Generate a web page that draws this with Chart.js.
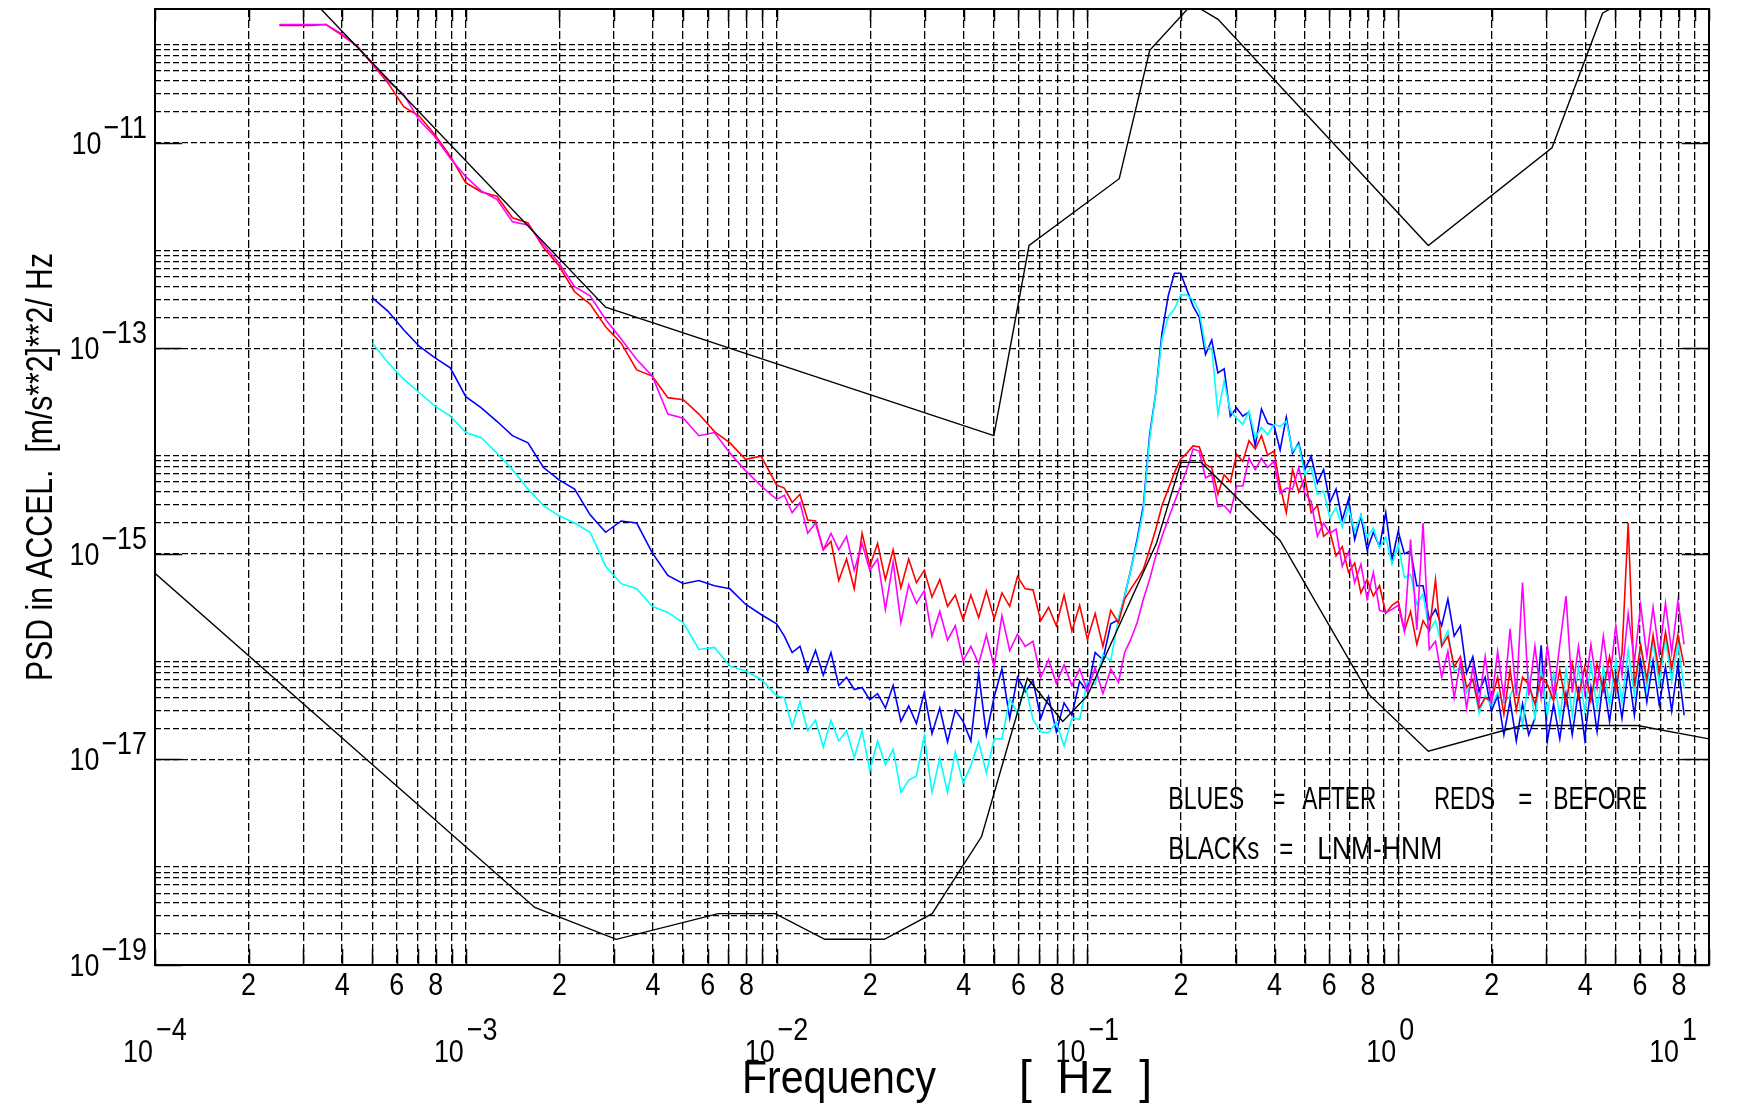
<!DOCTYPE html>
<html>
<head>
<meta charset="utf-8">
<script src="https://cdn.jsdelivr.net/npm/chart.js@4.4.1/dist/chart.umd.min.js"></script>
<style>
html,body{margin:0;padding:0;background:#fff;}
canvas{display:block;}
</style>
</head>
<body>
<canvas id="c" width="1737" height="1107"></canvas>
<script>
// ---------------- DATA ----------------
// Frequency grid (Hz) shared by the four measured spectra
const freqHz = [
 2.512e-4,2.818e-4,3.162e-4,3.548e-4,3.981e-4,4.467e-4,5.012e-4,5.623e-4,6.310e-4,7.079e-4,7.943e-4,8.913e-4,
 1.000e-3,1.122e-3,1.259e-3,1.413e-3,1.585e-3,1.778e-3,1.995e-3,2.239e-3,2.512e-3,2.818e-3,3.162e-3,3.548e-3,3.981e-3,4.467e-3,5.012e-3,5.623e-3,6.310e-3,7.079e-3,7.943e-3,8.913e-3,
 1.000e-2,
 1.059e-2,1.122e-2,1.189e-2,1.259e-2,1.334e-2,1.413e-2,1.496e-2,1.585e-2,1.679e-2,1.778e-2,1.884e-2,1.995e-2,2.113e-2,2.239e-2,2.371e-2,2.512e-2,2.661e-2,2.818e-2,2.985e-2,3.162e-2,3.350e-2,3.548e-2,3.758e-2,3.981e-2,4.217e-2,4.467e-2,4.732e-2,5.012e-2,5.309e-2,5.623e-2,5.957e-2,6.310e-2,6.683e-2,7.079e-2,7.499e-2,7.943e-2,8.414e-2,8.913e-2,9.441e-2,0.1000,0.1059,0.1122,0.1189,0.1259,
 0.1318,0.1380,0.1445,0.1514,0.1585,0.1660,0.1738,0.1820,0.1905,0.1995,0.2089,0.2188,0.2291,0.2399,0.2512,0.2630,0.2754,0.2884,0.3020,0.3162,0.3311,0.3467,0.3631,0.3802,0.3981,0.4169,0.4365,0.4571,0.4786,0.5012,0.5248,0.5495,0.5754,0.6026,0.6310,0.6607,0.6918,0.7244,0.7586,0.7943,0.8318,0.8710,0.9120,0.9550,
 1.000,1.047,1.096,1.148,1.202,1.259,1.318,1.380,1.445,1.514,1.585,1.660,1.738,1.820,1.905,1.995,2.089,2.188,2.291,2.399,2.512,2.630,2.754,2.884,3.020,3.162,3.311,3.467,3.631,3.802,3.981,4.169,4.365,4.571,4.786,5.012,5.248,5.495,5.754,6.026,6.310,6.607,6.918,7.244,7.586,7.943,8.318
];

// PSD in dB re 1 (m/s^2)^2/Hz.  BEFORE = reds, AFTER = blues
const redDb = [
 -98.6,-98.6,-98.6,-98.5,-99.5,-100.6,-102.4,-104.2,-106.5,-107.4,-109.2,-111.3,-113.9,-114.8,-115.2,-117.3,-117.8,-120.2,-122.0,-124.5,-125.7,-127.9,-129.5,-132.1,-132.7,-134.8,-135.0,-136.4,-138.1,-139.2,-140.8,-140.5,-143.3,
 -143.6,-145.0,-144.2,-146.7,-146.8,-149.6,-148.8,-152.6,-150.5,-153.4,-148.0,-151.2,-149.0,-152.5,-149.6,-153.3,-150.5,-152.8,-151.6,-154.2,-152.5,-155.1,-154.0,-156.4,-154.0,-156.2,-153.6,-156.3,-153.8,-155.1,-152.2,-153.4,-153.5,-156.5,-155.2,-157.0,-154.0,-157.5,-155.0,-158.3,-155.8,-159.0,-155.5,-156.7,
 -154.4,-153.4,-152.5,-151.5,-149.6,-147.6,-145.3,-143.7,-142.1,-140.8,-140.2,-139.5,
 -139.6,-141.3,-141.6,-144.2,-142.3,-143.0,-140.3,-141.0,-139.0,-139.8,-138.5,-140.4,-140.0,-143.4,-146.0,-141.8,-144.0,-142.6,-146.0,-145.3,-148.3,-147.8,-150.2,-149.3,-151.8,-150.9,-153.8,-152.5,-154.1,-153.1,-155.8,-155.0,
 -154.6,-157.5,-155.6,-158.8,-156.5,-157.5,-152.5,-159.0,-158.0,-161.0,-160.0,-163.0,-162.2,-165.0,-164.0,-164.3,-162.0,-165.6,-161.3,-165.2,-162.0,-162.7,-164.6,-162.0,-162.7,-164.3,-161.3,-164.6,-160.7,-164.0,-161.0,-164.3,-160.7,-163.3,-160.0,-163.3,-159.7,-147.0,-162.9,-158.9,-162.2,-157.9,-161.6,-157.6,-161.2,-157.9,-160.9
];
const magentaDb = [
 -98.5,-98.5,-98.5,-98.5,-99.4,-100.6,-102.3,-104.0,-105.3,-107.8,-109.4,-111.5,-113.3,-114.7,-115.5,-117.7,-118.0,-119.9,-121.7,-124.0,-124.9,-127.2,-129.1,-131.1,-132.7,-136.4,-136.8,-138.5,-138.2,-140.2,-141.9,-143.4,-144.7,
 -144.3,-146.0,-145.0,-148.0,-147.0,-149.6,-148.0,-149.6,-148.3,-151.6,-149.0,-151.6,-150.5,-155.4,-150.8,-156.7,-153.0,-154.8,-153.6,-158.0,-155.6,-158.4,-157.0,-160.4,-159.0,-160.7,-157.9,-161.0,-156.0,-159.4,-157.8,-159.0,-158.5,-162.0,-160.3,-162.6,-160.8,-162.8,-161.2,-163.3,-161.1,-163.6,-161.2,-162.5,
 -159.6,-158.3,-156.7,-154.4,-152.5,-150.2,-148.3,-146.6,-145.0,-143.4,-141.8,-139.8,
 -140.0,-142.6,-142.3,-145.4,-145.3,-146.0,-143.4,-143.4,-140.7,-141.8,-140.7,-141.6,-141.0,-144.1,-143.6,-143.7,-141.6,-144.1,-144.9,-148.3,-147.0,-148.0,-147.6,-151.2,-149.8,-152.8,-151.0,-154.4,-151.8,-155.5,-155.7,-155.4,
 -155.0,-157.5,-148.6,-157.4,-147.0,-159.3,-158.5,-162.0,-159.5,-164.0,-160.5,-165.0,-161.0,-164.5,-160.0,-164.5,-159.5,-164.0,-157.3,-163.8,-152.8,-163.8,-159.0,-164.0,-159.0,-163.8,-158.8,-154.1,-163.5,-159.0,-163.5,-158.8,-163.0,-158.0,-162.5,-157.0,-161.8,-155.8,-160.5,-155.0,-160.0,-155.2,-159.8,-154.8,-159.6,-154.6,-158.8
];
const blueDb = [
 null,null,null,null,null,null,-125.1,-126.4,-128.2,-129.8,-130.9,-131.9,-134.7,-135.8,-137.1,-138.5,-139.2,-141.6,-142.8,-143.7,-146.2,-147.9,-146.8,-147.0,-149.9,-152.1,-152.9,-152.6,-153.1,-153.4,-154.9,-155.9,-156.8,
 -158.0,-159.6,-159.0,-161.4,-159.4,-161.8,-159.6,-162.8,-162.0,-163.2,-163.0,-164.2,-163.6,-165.0,-162.8,-166.3,-164.8,-166.5,-163.5,-167.5,-165.0,-168.3,-165.2,-166.3,-168.2,-161.6,-167.6,-163.9,-161.2,-166.0,-162.0,-163.4,-162.3,-166.0,-163.9,-167.3,-164.5,-165.7,-162.4,-163.4,-159.6,-160.3,-156.8,-156.4,
 -154.1,-151.5,-148.6,-145.3,-138.5,-134.3,-128.5,-124.9,-122.7,-122.7,-124.3,-125.9,
 -127.0,-130.6,-129.2,-132.4,-132.0,-136.6,-135.8,-136.6,-136.2,-139.5,-135.9,-137.3,-137.5,-139.9,-136.7,-140.2,-139.2,-141.8,-140.5,-143.1,-141.8,-145.0,-143.7,-146.7,-144.7,-148.6,-146.3,-149.6,-147.9,-149.3,-146.0,-150.6,
 -147.8,-150.0,-149.7,-153.1,-153.1,-156.4,-155.4,-157.0,-154.4,-158.0,-157.0,-161.6,-160.0,-163.4,-162.0,-165.3,-163.8,-167.6,-164.3,-168.2,-164.6,-167.6,-166.0,-158.9,-168.2,-164.6,-168.0,-163.6,-167.6,-163.3,-168.0,-163.0,-167.3,-162.3,-166.3,-162.0,-166.0,-161.3,-165.7,-160.4,-164.4,-160.4,-164.7,-161.0,-165.3,-160.7,-165.7
];
const cyanDb = [
 null,null,null,null,null,null,-129.5,-131.4,-133.0,-134.3,-135.6,-136.6,-138.2,-138.7,-140.2,-141.8,-143.7,-145.3,-146.3,-147.0,-147.9,-151.2,-152.9,-153.4,-155.1,-155.7,-156.7,-159.3,-159.1,-160.9,-161.4,-162.2,-163.8,
 -164.0,-166.8,-164.4,-167.2,-166.2,-168.8,-166.2,-168.2,-167.2,-169.8,-167.2,-171.1,-168.2,-170.5,-169.0,-173.2,-172.0,-171.6,-167.7,-173.2,-169.9,-173.2,-169.3,-172.3,-170.6,-168.3,-171.3,-168.0,-168.0,-164.1,-165.5,-162.8,-166.1,-167.3,-167.4,-166.4,-168.7,-166.0,-166.1,-162.4,-162.7,-159.8,-160.4,-156.2,
 -154.1,-151.5,-148.9,-145.7,-138.9,-134.3,-129.1,-126.9,-126.2,-124.8,-124.8,-125.3,
 -126.4,-129.9,-130.0,-136.4,-133.2,-136.1,-136.8,-137.4,-136.1,-138.7,-137.7,-138.4,-137.4,-137.6,-137.1,-140.0,-139.4,-142.3,-141.6,-144.2,-143.9,-146.5,-145.5,-147.4,-145.5,-147.8,-146.2,-148.4,-147.5,-149.4,-148.4,-151.0,
 -149.1,-152.3,-152.0,-154.9,-153.9,-157.5,-156.5,-158.8,-157.5,-161.4,-161.1,-163.5,-162.2,-165.5,-163.8,-164.8,-163.5,-164.5,-163.8,-162.5,-166.7,-162.0,-166.0,-161.3,-165.7,-161.6,-166.0,-161.3,-165.7,-161.0,-165.3,-160.7,-165.0,-161.0,-164.7,-160.3,-164.4,-159.4,-163.7,-158.7,-163.1,-158.4,-162.7,-158.1,-162.4,-158.7,-163.1
];

// Black reference curves (low / high noise model), breakpoints
const lnmFreqHz = [1e-4,1.667e-3,3.049e-3,6.494e-3,9.901e-3,1.429e-2,2.222e-2,3.165e-2,4.566e-2,6.410e-2,8.333e-2,0.1,0.1667,0.2,0.2326,0.4167,0.8065,1.25,2.5,5.882,10];
const lnmDb     = [-151.9,-184.4,-187.5,-185.0,-185.0,-187.5,-187.5,-185.0,-177.5,-162.1,-166.3,-163.8,-149.0,-141.1,-141.1,-148.7,-163.7,-169.2,-166.7,-166.7,-168.0];
const hnmFreqHz = [3.0e-4,2.818e-3,0.05,0.0649,0.1266,0.1587,0.2174,0.2632,1.25,3.125,4.545,10];
const hnmDb     = [-95.2,-126.0,-138.5,-120.0,-113.5,-101.0,-96.5,-98.0,-120.0,-110.5,-97.4,-91.5];

// Axes / tick labels
const xDecades = [1e-4, 1e-3, 1e-2, 1e-1, 1e0, 1e1];
const xDecadeExponents = ['\u22124', '\u22123', '\u22122', '\u22121', '0', '1'];
const xMinorLabelDigits = [2, 4, 6, 8];
const yDecades = [1e-19, 1e-17, 1e-15, 1e-13, 1e-11];
const yDecadeExponents = ['\u221219', '\u221217', '\u221215', '\u221213', '\u221211'];
const gridMultipliers = [1, 2, 3, 4, 5, 6, 7, 8, 9];
const xTitleWord = 'Frequency';
const xTitleUnit = '[  Hz  ]';
const yTitle = 'PSD in ACCEL.  [m/s**2]**2/ Hz';
const noteLine1 = ['BLUES', '=', 'AFTER', 'REDS', '=', 'BEFORE'];
const noteLine2 = ['BLACKs', '=', 'LNM-HNM'];
const noteAnchorHz = 0.182;
const noteLine1Psd = 3.3e-18;
const noteLine2Psd = 1.08e-18;

// ---------------- BUILD ----------------
const dbToPsd = db => Math.pow(10, db / 10);
function series(fArr, dbArr) {
  const out = [];
  const n = Math.min(fArr.length, dbArr.length);
  for (let i = 0; i < n; i++) if (dbArr[i] !== null) out.push({x: fArr[i], y: dbToPsd(dbArr[i])});
  return out;
}
const xGridValues = [];
xDecades.forEach((d, i) => {
  if (i < xDecades.length - 1) gridMultipliers.forEach(m => xGridValues.push(m * d));
  else xGridValues.push(d);
});
const yGridValues = [];
yDecades.forEach(d => gridMultipliers.forEach(m => yGridValues.push(m * d)));

const FONT = "'Liberation Sans', Arial, sans-serif";
function drawText(ctx, text, x, y, size, opt) {
  opt = opt || {};
  ctx.save();
  ctx.font = size + 'px ' + FONT;
  ctx.textAlign = 'left';
  ctx.textBaseline = 'alphabetic';
  const w0 = ctx.measureText(text).width;
  const sx = opt.width ? opt.width / w0 : (opt.hscale || 1);
  const w = w0 * sx;
  let left = x;
  if (opt.align === 'right') left = x - w;
  else if (opt.align === 'center') left = x - w / 2;
  ctx.translate(left, y);
  ctx.scale(sx, 1);
  ctx.fillText(text, 0, 0);
  ctx.restore();
  return w;
}

const decorPlugin = {
  id: 'decor',
  afterDraw(chart) {
    const ctx = chart.ctx, a = chart.chartArea, xs = chart.scales.x, ys = chart.scales.y;
    ctx.save();
    ctx.strokeStyle = '#000';
    ctx.fillStyle = '#000';
    ctx.setLineDash([]);
    // solid tick segments inside the frame
    ctx.lineWidth = 1.5;
    ctx.beginPath();
    xGridValues.forEach(v => {
      const px = Math.round(xs.getPixelForValue(v)) + 0.5;
      ctx.moveTo(px, a.bottom); ctx.lineTo(px, a.bottom - 16);
      ctx.moveTo(px, a.top); ctx.lineTo(px, a.top + 12);
    });
    yDecades.forEach(v => {
      const py = Math.round(ys.getPixelForValue(v)) + 0.5;
      ctx.moveTo(a.left, py); ctx.lineTo(a.left + 27, py);
      ctx.moveTo(a.right, py); ctx.lineTo(a.right - 27, py);
    });
    ctx.stroke();
    // frame
    ctx.lineWidth = 2;
    ctx.strokeRect(a.left, a.top, a.right - a.left, a.bottom - a.top);

    const TS = 32, HS = 0.84;
    // y tick labels  10^e
    yDecades.forEach((v, i) => {
      const py = ys.getPixelForValue(v);
      const ew = drawText(ctx, yDecadeExponents[i], a.left - 8, py - 5, TS, {hscale: HS, align: 'right'});
      drawText(ctx, '10', a.left - 10 - ew, py + 11, TS, {hscale: HS, align: 'right'});
    });
    // x minor labels
    xDecades.forEach((d, i) => {
      if (i === xDecades.length - 1) return;
      xMinorLabelDigits.forEach(m => {
        const px = xs.getPixelForValue(m * d);
        drawText(ctx, String(m), px, a.bottom + 30, TS, {hscale: HS, align: 'center'});
      });
    });
    // x decade labels ("10" ends at the tick; the last one is kept inside the frame)
    xDecades.forEach((d, i) => {
      const px = xs.getPixelForValue(d);
      if (i === xDecades.length - 1) {
        const ew = drawText(ctx, xDecadeExponents[i], px - 12, a.bottom + 75, TS, {hscale: HS, align: 'right'});
        drawText(ctx, '10', px - 15 - ew, a.bottom + 97, TS, {hscale: HS, align: 'right'});
      } else {
        drawText(ctx, '10', px - 2, a.bottom + 97, TS, {hscale: HS, align: 'right'});
        drawText(ctx, xDecadeExponents[i], px + 1, a.bottom + 75, TS, {hscale: HS});
      }
    });
    // x title
    const cx = (a.left + a.right) / 2;
    drawText(ctx, xTitleWord, cx - 190, a.bottom + 128, 46, {width: 194});
    drawText(ctx, xTitleUnit, cx + 87, a.bottom + 128, 46, {width: 133});
    // y title (rotated)
    ctx.save();
    ctx.translate(52, (a.top + a.bottom) / 2 - 20);
    ctx.rotate(-Math.PI / 2);
    drawText(ctx, yTitle, 0, 0, 36, {width: 428, align: 'center'});
    ctx.restore();
    // notes
    const nx = xs.getPixelForValue(noteAnchorHz);
    const y1 = ys.getPixelForValue(noteLine1Psd);
    const y2 = ys.getPixelForValue(noteLine2Psd);
    const l1off = [0, 105, 134, 266, 350, 385];
    const l1w = [76, 12, 74, 61, 14, 94];
    noteLine1.forEach((t, i) => drawText(ctx, t, nx + l1off[i], y1, 32, {width: l1w[i]}));
    const l2off = [0, 111, 149];
    const l2w = [91, 14, 125];
    noteLine2.forEach((t, i) => drawText(ctx, t, nx + l2off[i], y2, 32, {width: l2w[i]}));
    ctx.restore();
  }
};

const common = {fill: false, pointRadius: 0, tension: 0, spanGaps: false};
new Chart(document.getElementById('c'), {
  type: 'line',
  data: {
    datasets: [
      Object.assign({label: 'LNM', data: series(lnmFreqHz, lnmDb), borderColor: '#000', borderWidth: 1.4}, common),
      Object.assign({label: 'HNM', data: series(hnmFreqHz, hnmDb), borderColor: '#000', borderWidth: 1.4}, common),
      Object.assign({label: 'Before 2', data: series(freqHz, magentaDb), borderColor: '#ff00ff', borderWidth: 1.6}, common),
      Object.assign({label: 'Before 1', data: series(freqHz, redDb), borderColor: '#ff0000', borderWidth: 1.6}, common),
      Object.assign({label: 'After 2', data: series(freqHz, cyanDb), borderColor: '#00ffff', borderWidth: 1.6}, common),
      Object.assign({label: 'After 1', data: series(freqHz, blueDb), borderColor: '#0000ff', borderWidth: 1.6}, common)
    ]
  },
  options: {
    responsive: false,
    animation: false,
    devicePixelRatio: 1,
    layout: {padding: {top: 9, right: 28, left: 0, bottom: 0}},
    plugins: {legend: {display: false}, tooltip: {enabled: false}},
    scales: {
      x: {
        type: 'logarithmic', min: 1e-4, max: 10, position: 'bottom',
        afterBuildTicks: s => { s.ticks = xGridValues.map(v => ({value: v})); },
        afterFit: s => { s.height = 142; },
        ticks: {display: false},
        grid: {color: '#000', lineWidth: 1.3, drawTicks: false},
        border: {display: false, dash: [8, 3]}
      },
      y: {
        type: 'logarithmic', min: 1e-19, max: 2e-10, position: 'left',
        afterBuildTicks: s => { s.ticks = yGridValues.map(v => ({value: v})); },
        afterFit: s => { s.width = 155; },
        ticks: {display: false},
        grid: {color: '#000', lineWidth: 1.3, drawTicks: false},
        border: {display: false, dash: [6, 3]}
      }
    }
  },
  plugins: [decorPlugin]
});
</script>
</body>
</html>
